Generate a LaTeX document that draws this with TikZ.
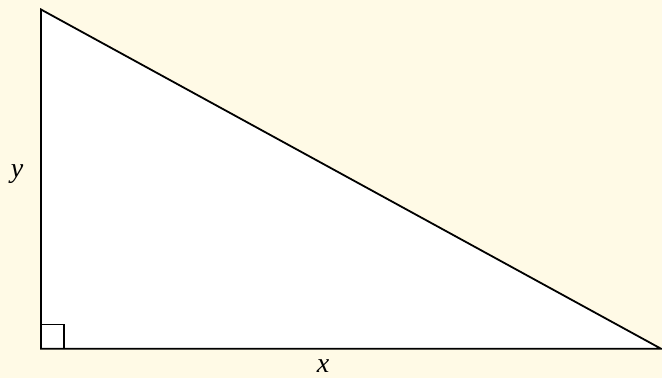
\documentclass[tikz,border=0pt]{standalone}
\usepackage{fontspec}
\setmainfont{Liberation Serif}
\definecolor{bgcream}{HTML}{FFFAE6}
\begin{document}
\begin{tikzpicture}[x=1pt,y=-1pt,
  edge/.style={line width=1.8pt, line join=miter},
  lab/.style={font=\fontsize{28}{32}\selectfont\itshape, inner sep=0pt, anchor=base}]
\fill[bgcream] (0,0) rectangle (662,378);
\useasboundingbox (0,0) rectangle (662,378);
\coordinate (A) at (41,9.5);
\coordinate (B) at (41,348.7);
\coordinate (C) at (661,348.7);
\fill[white] (A) -- (B) -- (C) -- cycle;
\draw[edge] (A) -- (B) -- (C) -- cycle;
\draw[edge] (41,324.5) -- (64,324.5) -- (64,348.7);
\node[lab] (ylab) at (17,177) {y};
\node[lab, text depth=0pt, text height=12pt] (xlab) at (323,372) {x};
\end{tikzpicture}
\end{document}
